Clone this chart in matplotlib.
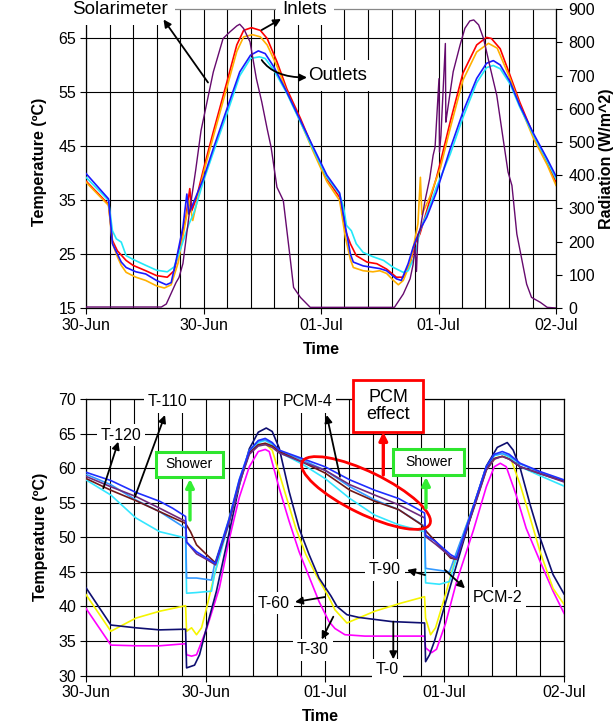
import matplotlib
matplotlib.use('Agg')
import matplotlib.pyplot as plt
from matplotlib.ticker import MultipleLocator, FixedLocator
from matplotlib.patches import Ellipse, Rectangle

plt.rcParams['font.family'] = ['Liberation Sans', 'DejaVu Sans']

# ------------------------------------------------------------------ data
tick_hours = [0, 12, 24, 36, 48]
tick_labels = ['30-Jun', '30-Jun', '01-Jul', '01-Jul', '02-Jul']

# --- top chart: collector inlets / outlets (°C) and solarimeter (W/m^2)
inlet1_t = [0, 2.3, 2.7, 3.2, 4.1, 4.8, 6.1, 7.2, 8.3, 9.0, 9.5, 10.2, 10.6, 10.8, 11.3, 12.0, 13.0, 14.4,
            15.4, 16.1, 16.9, 17.8, 18.5, 19.5, 20.5, 21.9, 23.2, 24.6, 25.9, 26.5, 27.0, 27.6, 28.7, 29.7,
            30.7, 31.7, 32.4, 33.1, 33.6, 34.1, 34.8, 35.8, 36.2, 37.2, 38.5, 39.9, 40.9, 41.4, 42.3, 43.3,
            44.3, 45.7, 47.1, 48.0]
inlet1_T = [38.5, 34.2, 27.5, 25.6, 23.8, 22.9, 21.9, 21.0, 20.7, 21.9, 25.6, 31.8, 37.1, 33.0, 35.5, 40.7, 47.6, 56.9,
            63.7, 66.4, 66.9, 66.4, 64.9, 60.6, 55.6, 50.1, 44.5, 38.9, 35.5, 29.3, 26.9, 24.7, 23.5, 23.2,
            22.2, 20.7, 20.7, 23.2, 26.9, 28.7, 33.0, 39.2, 42.0, 49.5, 58.5, 63.7, 65.1, 64.9, 63.0, 58.1,
            53.1, 47.0, 42.0, 38.3]

inlet2_t = [0, 2.3, 2.7, 3.2, 3.6, 4.1, 5.1, 6.1, 7.2, 8.0, 8.7, 9.4, 10.0, 10.55, 10.9, 12.0, 13.0, 14.4, 15.4,
            16.1, 17.0, 17.8, 18.5, 19.5, 20.5, 21.9, 23.2, 24.6, 25.9, 26.5, 27.0, 27.3, 28.3, 29.3, 30.0,
            30.7, 31.4, 31.9, 32.4, 33.1, 33.9, 34.15, 34.3, 35.1, 36.2, 37.2, 38.5, 39.9, 41.1, 42.0, 43.3,
            44.3, 45.7, 47.1, 48.0]
inlet2_T = [38.3, 34.0, 27.0, 24.5, 22.9, 21.6, 20.7, 20.1, 19.1, 18.7, 19.3, 23.3, 29.3, 34.9, 31.2, 40.0, 46.7, 55.9, 62.5,
            65.2, 65.6, 65.2, 63.7, 59.8, 55.0, 49.5, 44.0, 38.4, 34.9, 28.0, 24.0, 22.5, 21.9, 21.7, 21.9,
            21.4, 20.1, 19.3, 20.1, 23.2, 30.6, 39.2, 32.3, 35.5, 41.0, 48.3, 57.2, 62.4, 64.0, 63.1, 57.5,
            52.5, 46.4, 41.5, 37.7]

outlet1_t = [0, 2.3, 2.7, 3.6, 4.1, 5.1, 6.1, 7.2, 8.2, 8.7, 9.2, 9.9, 10.3, 10.5, 11.2, 12.0, 13.0, 14.4, 15.7,
             16.8, 17.6, 18.3, 19.2, 20.5, 21.9, 23.2, 24.6, 25.9, 26.5, 27.0, 27.3, 28.3, 29.3, 30.0, 30.7,
             31.7, 32.2, 32.9, 33.4, 34.1, 34.8, 35.8, 37.2, 38.5, 39.9, 40.9, 41.6, 42.3, 43.3, 44.3, 45.7,
             47.1, 48.0]
outlet1_T = [39.9, 35.2, 26.9, 23.5, 22.5, 21.7, 21.3, 20.1, 19.3, 19.7, 23.8, 30.0, 36.1, 32.4, 35.5, 39.0, 44.5, 51.9, 58.7,
             61.8, 62.6, 62.1, 59.6, 55.0, 49.7, 44.8, 39.6, 36.3, 30.0, 25.0, 23.5, 22.8, 22.5, 22.3, 21.9,
             20.4, 20.1, 23.2, 26.2, 29.5, 31.8, 36.5, 44.5, 51.3, 57.5, 60.3, 60.8, 60.0, 56.9, 52.5, 47.3,
             42.6, 39.4]

outlet2_t = [0, 2.3, 2.7, 3.1, 3.6, 4.1, 4.8, 6.1, 7.2, 8.3, 9.0, 9.7, 10.5, 11.0, 12.0, 13.0, 14.4, 15.7, 16.8,
             17.7, 18.3, 19.2, 20.5, 21.9, 23.2, 24.6, 25.9, 26.3, 26.6, 27.1, 27.6, 28.3, 29.3, 30.4, 31.4,
             32.4, 32.9, 33.6, 34.1, 34.8, 35.8, 37.2, 38.5, 39.9, 40.9, 41.6, 42.3, 43.3, 44.3, 45.7, 47.1,
             48.0]
outlet2_T = [39.2, 34.9, 29.3, 27.8, 27.2, 24.7, 24.0, 22.9, 22.0, 21.7, 22.6, 26.2, 30.5, 32.5, 38.5, 43.8, 51.0, 58.0, 61.2,
             61.5, 61.2, 59.0, 54.8, 49.4, 44.4, 39.2, 36.1, 33.7, 30.3, 29.3, 26.9, 25.3, 24.5, 23.8, 22.5,
             21.6, 21.9, 24.7, 29.3, 32.4, 37.4, 43.5, 50.3, 56.7, 59.5, 59.9, 59.3, 56.5, 52.2, 47.0, 42.2,
             38.9]

solar_t = [0, 7.7, 8.2, 9.2, 9.5, 9.9, 10.55, 11.2, 11.75, 13.0, 14.0, 14.7, 15.4, 15.7, 16.1, 16.75, 17.4,
           17.95, 18.5, 18.9, 19.5, 20.15, 20.8, 21.2, 21.9, 22.9, 31.5, 32.4, 33.1, 33.4, 33.6, 33.75, 33.9,
           34.1, 34.6, 35.1, 35.45, 35.65, 36.05, 36.1, 36.25, 36.7, 36.75, 36.85, 37.5, 38.2, 38.7, 39.2,
           39.6, 40.1, 40.6, 41.3, 41.95, 42.5, 43.1, 43.5, 44.0, 45.0, 45.5, 46.4, 47.1, 48.0]
solar_R = [3, 3, 12, 77, 92, 134, 285, 415, 535, 711, 812, 832, 850, 855, 842, 802, 691,
           621, 540, 485, 364, 324, 163, 62, 32, 2, 2, 42, 88, 130, 183, 110, 220,
           233, 320, 390, 460, 485, 691, 470, 520, 797, 560, 581, 712, 792, 843, 865,
           868, 853, 812, 722, 641, 530, 410, 369, 223, 72, 32, 17, 2, 0]

# --- bottom chart: tank temperatures (°C)
blue_t = [0, 2.5, 5.0, 7.4, 8.7, 10.0, 10.1, 11.1, 12.1, 13.0, 14.35, 15.4, 16.4, 17.3, 18.0, 18.7, 19.4, 21.7,
          24.0, 26.5, 29.0, 31.4, 33.4, 34.0, 34.1, 35.1, 36.6, 37.2, 38.9, 40.2, 41.0, 41.8, 42.5, 43.6,
          45.6, 48.0]
blue_T = [59.4, 58.2, 56.5, 55.2, 54.2, 53.0, 49.3, 47.9, 47.0, 46.2, 52.5, 58.3, 62.5, 64.0, 64.3, 63.7, 62.6, 61.4,
          60.2, 58.3, 56.8, 55.6, 54.0, 53.5, 50.3, 49.4, 47.5, 47.0, 54.5, 60.2, 62.0, 62.4, 62.0, 60.7,
          59.5, 58.3]

purple_t = [0, 2.5, 5.0, 7.4, 10.0, 10.1, 11.1, 12.1, 13.0, 14.35, 15.4, 16.4, 17.3, 18.0, 18.7, 19.4, 21.7,
            24.0, 26.5, 29.0, 31.4, 34.0, 34.1, 35.1, 36.6, 37.2, 38.9, 40.2, 41.0, 41.8, 42.5, 43.6, 45.6,
            48.0]
purple_T = [58.8, 57.3, 55.9, 54.2, 52.3, 49.3, 47.6, 46.8, 46.0, 52.0, 57.8, 62.0, 63.2, 63.4, 63.0, 62.2, 60.9,
            59.7, 57.6, 56.1, 54.7, 52.8, 50.1, 49.0, 47.2, 46.8, 54.0, 59.7, 61.3, 61.7, 61.3, 60.2, 59.2,
            58.0]

brown_t = [0, 2.5, 5.0, 7.4, 10.0, 10.5, 11.1, 12.1, 13.0, 14.35, 15.4, 16.4, 17.3, 18.0, 18.7, 19.4, 21.7,
           24.0, 26.5, 29.0, 31.4, 33.7, 34.2, 35.1, 36.6, 37.2, 38.9, 40.2, 41.0, 41.8, 42.5, 43.6, 45.6,
           48.0]
brown_T = [58.5, 56.8, 55.3, 53.7, 52.0, 50.8, 48.9, 47.5, 46.3, 52.2, 58.0, 62.2, 63.4, 63.6, 63.2, 62.4, 60.9,
           59.3, 56.8, 55.2, 54.0, 51.8, 50.8, 49.4, 47.0, 46.8, 54.1, 59.8, 61.4, 61.7, 61.3, 60.2, 59.2,
           58.1]

sky_t = [0, 2.5, 5.0, 7.4, 10.0, 10.1, 11.1, 12.6, 12.9, 14.35, 15.4, 16.4, 17.3, 18.0, 18.7, 19.4, 21.7,
         24.0, 26.5, 29.0, 31.4, 34.0, 34.1, 36.5, 37.0, 38.9, 40.2, 41.0, 41.8, 42.5, 43.6, 45.6, 48.0]
sky_T = [59.1, 57.6, 55.4, 53.7, 51.3, 44.1, 44.1, 43.8, 46.0, 52.6, 58.4, 62.6, 63.9, 64.1, 63.6, 62.5, 61.2,
         59.7, 57.3, 55.4, 54.0, 51.6, 45.5, 45.0, 47.0, 54.5, 60.2, 61.9, 62.1, 61.8, 60.6, 59.4, 58.2]

cyan_t = [0, 2.5, 5.0, 7.4, 10.0, 10.1, 11.1, 12.6, 12.9, 14.35, 15.4, 16.4, 17.3, 18.0, 18.7, 19.4, 21.7,
          24.0, 26.5, 29.0, 31.4, 34.0, 34.1, 35.5, 36.5, 37.3, 38.9, 40.2, 41.0, 41.8, 42.5, 43.6, 45.6, 48.0]
cyan_T = [58.3, 56.1, 52.8, 50.8, 49.9, 41.9, 42.0, 42.2, 44.6, 52.0, 57.8, 62.2, 63.7, 64.0, 63.4, 62.3, 60.6,
          58.5, 55.6, 53.2, 51.8, 50.8, 43.4, 43.2, 43.6, 47.5, 54.3, 60.0, 61.8, 62.1, 61.6, 60.2, 58.9, 57.4]

navy_t = [0, 2.5, 5.0, 7.4, 10.0, 10.1, 10.9, 11.4, 12.1, 13.1, 14.35, 15.4, 16.4, 17.3, 18.1, 18.7, 19.4, 20.4,
          21.4, 22.4, 23.4, 24.6, 25.2, 26.2, 27.4, 30.7, 34.0, 34.1, 34.5, 35.0, 36.1, 36.6, 38.9, 40.2,
          41.3, 42.3, 42.9, 43.6, 44.6, 45.6, 46.9, 48.0]
navy_T = [42.7, 37.3, 36.9, 36.6, 36.7, 31.1, 31.5, 33.0, 36.9, 42.2, 50.5, 57.5, 62.8, 65.2, 65.8, 65.3, 62.9, 56.6,
          51.3, 47.5, 44.1, 41.5, 40.0, 38.8, 38.4, 37.8, 37.6, 32.0, 33.0, 35.0, 40.5, 43.0, 54.3, 60.3,
          63.0, 63.7, 62.6, 60.0, 54.7, 49.9, 44.6, 41.8]

yellow_t = [0, 2.5, 5.0, 7.4, 10.0, 10.1, 10.6, 11.1, 11.6, 12.1, 12.9, 14.35, 15.4, 16.4, 17.3, 18.1, 18.7,
            20.06, 21.07, 22.08, 23.09, 24.43, 25.0, 26.2, 29.0, 31.7, 34.0, 34.1, 34.6, 35.1, 36.1, 37.2,
            38.9, 40.2, 41.2, 42.0, 42.7, 43.6, 44.6, 45.6, 46.9, 48.0]
yellow_T = [41.7, 36.4, 38.3, 39.3, 40.1, 36.4, 36.9, 35.9, 36.9, 39.7, 44.6, 52.6, 58.0, 62.2, 63.3, 63.4, 62.6,
            56.1, 51.3, 47.5, 44.6, 41.2, 39.5, 37.6, 39.3, 40.5, 41.4, 38.3, 35.9, 36.9, 41.7, 47.5,
            54.6, 60.0, 61.5, 61.7, 61.2, 57.6, 52.8, 47.9, 42.6, 40.3]

magenta_t = [0, 2.5, 5.0, 7.4, 10.0, 10.1, 10.6, 11.1, 12.1, 13.4, 14.35, 15.4, 16.4, 17.3, 18.0, 18.4, 19.4,
             20.4, 21.4, 22.4, 23.4, 24.4, 25.0, 26.0, 28.0, 34.0, 34.1, 34.7, 35.2, 36.1, 37.2, 38.9, 40.2,
             41.0, 41.6, 42.2, 43.2, 44.2, 45.6, 46.9, 48.0]
magenta_T = [39.7, 34.4, 34.3, 34.3, 34.6, 33.0, 32.8, 33.0, 36.7, 42.7, 49.5, 55.8, 60.2, 62.4, 62.7, 62.4, 57.1,
             52.3, 47.9, 44.3, 40.7, 37.8, 36.8, 35.9, 35.7, 35.7, 34.0, 33.3, 33.8, 37.5, 43.5, 51.0, 57.3,
             60.2, 60.7, 60.2, 56.1, 51.3, 46.5, 42.2, 39.0]

# ------------------------------------------------------------------ figure
W, H = 616, 725
fig = plt.figure(figsize=(W / 100, H / 100), dpi=100)

ax = fig.add_axes([86 / W, (H - 308) / H, 470 / W, 298.7 / H])
ax2 = ax.twinx()
axb = fig.add_axes([86 / W, (H - 675.5) / H, 478 / W, 276.5 / H])

LW = 1.2
ax.plot(inlet1_t, inlet1_T, color='#ff0000', lw=LW, zorder=3)
ax.plot(inlet2_t, inlet2_T, color='#ffb000', lw=LW, zorder=3)
ax.plot(outlet2_t, outlet2_T, color='#22e8f8', lw=LW, zorder=3)
ax.plot(outlet1_t, outlet1_T, color='#1a1aff', lw=LW, zorder=3)
ax2.plot(solar_t, solar_R, color='#660a6e', lw=1.0)

for a in (ax, axb):
    a.set_xlim(0, 48)
    a.xaxis.set_major_locator(FixedLocator(tick_hours))
    a.set_xticklabels(tick_labels)
    a.xaxis.set_minor_locator(MultipleLocator(2.4))
    a.tick_params(axis='both', which='major', direction='out', length=4, width=0.8,
                  labelsize=11.5, pad=3)
    a.tick_params(axis='x', which='minor', length=0)
    a.grid(True, which='both', axis='x', color='black', lw=0.8, zorder=0)
    a.grid(True, which='major', axis='y', color='black', lw=0.8, zorder=0)
    a.set_axisbelow(True)
    for s in a.spines.values():
        s.set_linewidth(0.9)

ax.set_ylim(15, 70.3)
ax.set_yticks([15, 25, 35, 45, 55, 65])
ax.spines['top'].set_color('#888888')
ax.spines['right'].set_visible(False)
ax2.set_ylim(0, 900)
ax2.set_yticks(range(0, 901, 100))
ax2.tick_params(axis='y', direction='out', length=4, width=0.8, labelsize=11.5, pad=5)
for s in ('left', 'bottom', 'top'):
    ax2.spines[s].set_visible(False)
ax2.spines['right'].set_linewidth(0.9)

axb.set_ylim(30, 70)
axb.set_yticks(range(30, 71, 5))

lines_b = [(magenta_t, magenta_T, '#ff00ff'), (yellow_t, yellow_T, '#f5f500'),
           (navy_t, navy_T, '#0e0e70'), (cyan_t, cyan_T, '#33e6ff'),
           (sky_t, sky_T, '#3399ff'), (brown_t, brown_T, '#701818'),
           (purple_t, purple_T, '#6e2a7e'), (blue_t, blue_T, '#1f2fff')]
for t, v, c in lines_b:
    axb.plot(t, v, color=c, lw=LW, zorder=3)

# axis labels
ax.set_ylabel('Temperature (ºC)', fontsize=11.5, fontweight='bold')
ax.yaxis.set_label_coords(-0.098, 0.49)
ax.yaxis.label.set_va('center')
ax2.set_ylabel('Radiation (W/m^2)', fontsize=11.5, fontweight='bold')
ax2.yaxis.set_label_coords(1.108, 0.5)
ax2.yaxis.label.set_va('center')
ax.set_xlabel('Time', fontsize=11.5, fontweight='bold')
ax.xaxis.set_label_coords(0.5, -0.139)
ax.xaxis.label.set_va('center')

axb.set_ylabel('Temperature (ºC)', fontsize=11.5, fontweight='bold')
axb.yaxis.set_label_coords(-0.096, 0.5)
axb.yaxis.label.set_va('center')
axb.set_xlabel('Time', fontsize=11.5, fontweight='bold')
axb.xaxis.set_label_coords(0.49, -0.147)
axb.xaxis.label.set_va('center')


# ------------------------------------------------------------------ annotations (figure pixels)
def P(x, y):
    return (x, H - y)


def label(a, s, x, y, size=11.5, pad=2.5, va='center'):
    a.annotate(s, xy=P(x, y), xycoords='figure pixels', ha='center', va=va,
               fontsize=size, annotation_clip=False, zorder=8,
               bbox=dict(fc='white', ec='none', pad=pad))


def arrow(a, tail, head, color='black', lw=1.3, ms=11, cs='arc3'):
    a.annotate('', xy=P(*head), xycoords='figure pixels', xytext=P(*tail),
               textcoords='figure pixels', annotation_clip=False, zorder=9,
               arrowprops=dict(arrowstyle='-|>', color=color, lw=lw, mutation_scale=ms,
                               shrinkA=0, shrinkB=0, connectionstyle=cs))


# top chart
label(ax2, 'Solarimeter', 120, 14.5, size=13.5, pad=5, va='baseline')
label(ax2, 'Inlets', 305, 14.5, size=13.5, pad=5, va='baseline')
label(ax2, 'Outlets', 338, 80, size=13.5, pad=5, va='baseline')
arrow(ax2, (208, 82.5), (163.5, 19.5))
arrow(ax2, (261.7, 30), (281, 19))
arrow(ax2, (261.7, 60), (307, 77.5), cs='angle3,angleA=-55,angleB=0')

# bottom chart
label(axb, 'T-120', 121, 435)
label(axb, 'T-110', 167, 402)
label(axb, 'PCM-4', 308, 402)
label(axb, 'T-60', 274, 603)
label(axb, 'T-30', 313, 650)
label(axb, 'T-0', 387.5, 670)
label(axb, 'T-90', 385, 570)
label(axb, 'PCM-2', 498, 598)
arrow(axb, (103.3, 488.3), (118.3, 441.7))
arrow(axb, (135, 496.7), (165, 415))
arrow(axb, (340, 476.7), (326.7, 415))
arrow(axb, (325, 597), (295, 602))
arrow(axb, (333.3, 616.7), (321.7, 639.5))
arrow(axb, (393.3, 621.7), (393.3, 659.3))
arrow(axb, (425, 575), (407, 570))
arrow(axb, (445, 570), (465, 588.3))

# PCM effect box, red arrow and ellipse
axb.add_patch(Rectangle((353.3 / 100, (H - 432.3) / 100), 0.70, 0.523, transform=fig.dpi_scale_trans,
                        fc='white', ec='#ff0000', lw=2.0, zorder=7, clip_on=False))
axb.annotate('PCM\neffect', xy=P(388.3, 406), xycoords='figure pixels', ha='center', va='center',
             fontsize=13, linespacing=1.05, annotation_clip=False, zorder=8)
arrow(axb, (383.3, 475), (383.3, 432), color='#ff0000', lw=2.4, ms=12)
axb.add_patch(Ellipse((366 / 100, (H - 493) / 100), 1.42, 0.42, angle=-26,
                      transform=fig.dpi_scale_trans, fc='none', ec='#ff0000', lw=2.0,
                      zorder=6, clip_on=False))

# shower boxes and green arrows
for (x0, y0, w, h, tx, ty) in [(156, 451.7, 66.7, 25.6, 189.3, 464.5),
                                (393.3, 449, 71, 26, 428.8, 462)]:
    axb.add_patch(Rectangle((x0 / 100, (H - y0 - h) / 100), w / 100, h / 100,
                            transform=fig.dpi_scale_trans, fc='white', ec='#2ee62e',
                            lw=2.2, zorder=7, clip_on=False))
    axb.annotate('Shower', xy=P(tx, ty), xycoords='figure pixels', ha='center', va='center',
                 fontsize=10, annotation_clip=False, zorder=8)
arrow(axb, (190, 520), (190, 479), color='#33ee33', lw=2.4, ms=12)
arrow(axb, (426, 508), (426, 477), color='#33ee33', lw=2.4, ms=12)

fig.savefig('out.png', dpi=100)
